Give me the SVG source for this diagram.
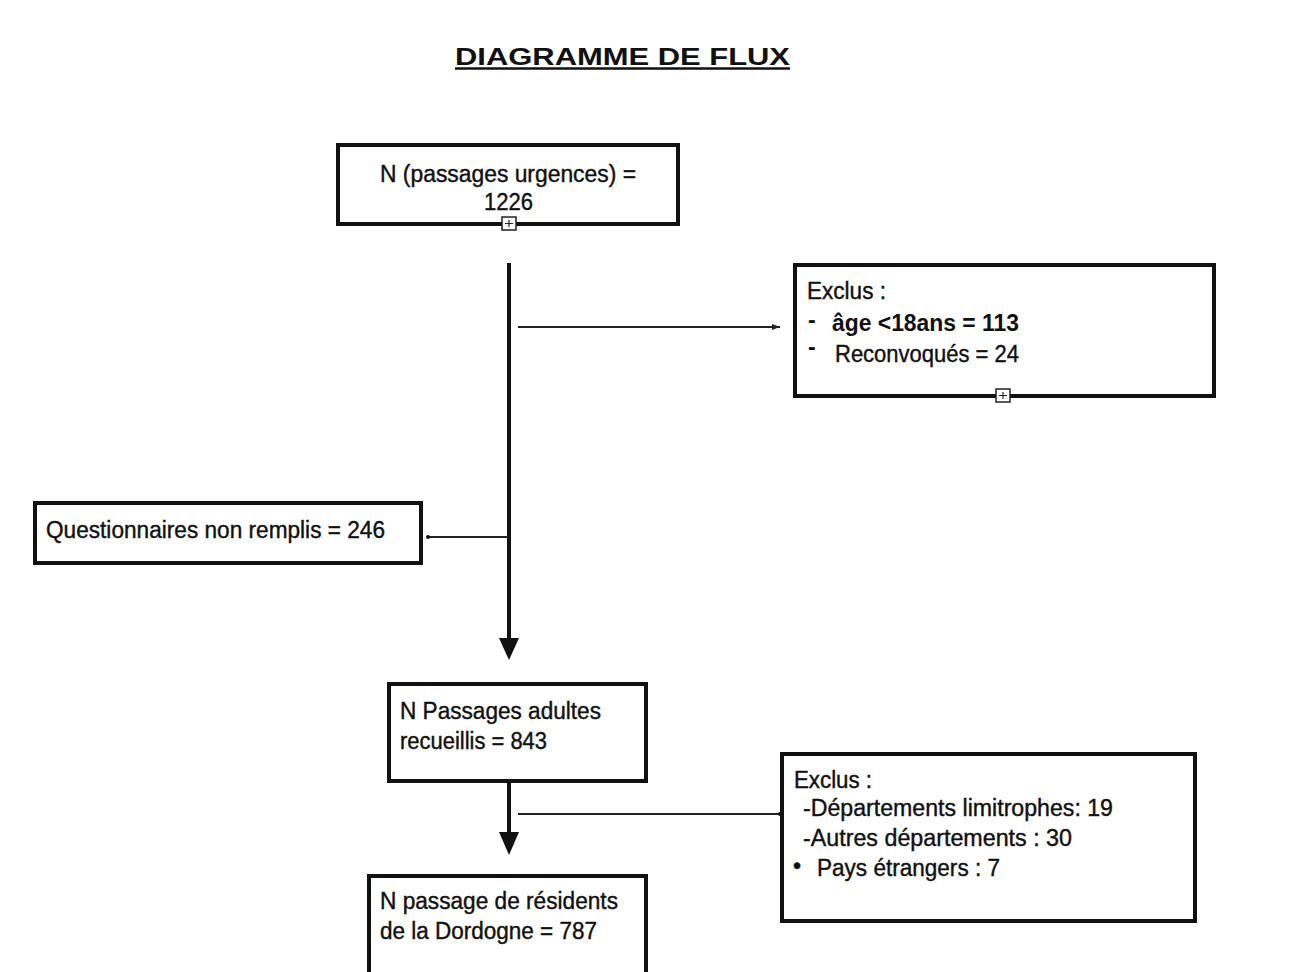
<svg xmlns="http://www.w3.org/2000/svg" width="1290" height="972" viewBox="0 0 1290 972">
<style>
.box{fill:#fff;stroke:#111;stroke-width:4}
.t{font-family:"Liberation Sans",Arial,sans-serif;font-size:23px;fill:#111;stroke:#111;stroke-width:0.4}
.b{font-weight:bold;stroke-width:0}
.thin{stroke:#222;stroke-width:2;fill:none}
.thick{stroke:#111;stroke-width:4;fill:none}
.plus{fill:#fff;stroke:#222;stroke-width:1.5}
</style>
<defs>
<marker id="small" markerWidth="8" markerHeight="8" refX="8" refY="4" orient="auto" markerUnits="userSpaceOnUse" viewBox="0 0 8 8">
<path d="M0,1 L8,4 L0,7 z" fill="#222"/>
</marker>
</defs>
<rect width="1290" height="972" fill="#fff"/>
<g id="title">
<text class="t b" x="455" y="65" font-size="37" textLength="335" lengthAdjust="spacingAndGlyphs">DIAGRAMME DE FLUX</text>
<line x1="455" y1="68.5" x2="790" y2="68.5" stroke="#111" stroke-width="2.5"/>
</g>
<g id="connectors">
<line class="thick" x1="509" y1="263" x2="509" y2="640"/>
<path d="M499,638 L519,638 L509,660 z" fill="#111"/>
<line class="thin" x1="518" y1="327" x2="780" y2="327" marker-end="url(#small)"/>
<line class="thin" x1="509" y1="537" x2="428" y2="537"/>
<circle cx="428" cy="537" r="2" fill="#111"/>
<line class="thick" x1="509" y1="781" x2="509" y2="834"/>
<path d="M499,832 L519,832 L509,855 z" fill="#111"/>
<line class="thin" x1="518" y1="814" x2="780" y2="814"/>
<circle cx="780" cy="814" r="2" fill="#111"/>
</g>
<g id="n1">
<rect class="box" x="338" y="145" width="340" height="79"/>
<text class="t" x="380" y="182" textLength="256" lengthAdjust="spacingAndGlyphs">N (passages urgences) =</text>
<text class="t" x="484" y="210" textLength="49" lengthAdjust="spacingAndGlyphs">1226</text>
<rect class="plus" x="502" y="217" width="14" height="13"/>
<path d="M505,223.5 H513 M509,220 V227" stroke="#222" stroke-width="1.2"/>
</g>
<g id="n2">
<rect class="box" x="795" y="265" width="419" height="131"/>
<text class="t" x="807" y="299" textLength="79" lengthAdjust="spacingAndGlyphs">Exclus :</text>
<text class="t b" x="808" y="328">-</text>
<text class="t b" x="832" y="331" textLength="187" lengthAdjust="spacingAndGlyphs">âge &lt;18ans =  113</text>
<text class="t b" x="808" y="355">-</text>
<text class="t" x="835" y="362" textLength="184" lengthAdjust="spacingAndGlyphs">Reconvoqués = 24</text>
<rect class="plus" x="996" y="389" width="14" height="13"/>
<path d="M999,395.5 H1007 M1003,392 V399" stroke="#222" stroke-width="1.2"/>
</g>
<g id="n3">
<rect class="box" x="35" y="503" width="386" height="60"/>
<text class="t" x="46" y="538" textLength="339" lengthAdjust="spacingAndGlyphs">Questionnaires non remplis = 246</text>
</g>
<g id="n4">
<rect class="box" x="389" y="684" width="257" height="97"/>
<text class="t" x="400" y="719" textLength="201" lengthAdjust="spacingAndGlyphs">N Passages adultes</text>
<text class="t" x="400" y="749" textLength="147" lengthAdjust="spacingAndGlyphs">recueillis = 843</text>
</g>
<g id="n5">
<rect class="box" x="782" y="754" width="413" height="167"/>
<text class="t" x="794" y="788" textLength="78" lengthAdjust="spacingAndGlyphs">Exclus :</text>
<text class="t" x="803" y="816" textLength="310" lengthAdjust="spacingAndGlyphs">-Départements limitrophes: 19</text>
<text class="t" x="803" y="846" textLength="269" lengthAdjust="spacingAndGlyphs">-Autres départements : 30</text>
<text class="t" x="793" y="874">•</text>
<text class="t" x="817" y="876" textLength="183" lengthAdjust="spacingAndGlyphs">Pays étrangers : 7</text>
</g>
<g id="n6">
<rect class="box" x="369" y="876" width="277" height="100"/>
<text class="t" x="380" y="909" textLength="238" lengthAdjust="spacingAndGlyphs">N passage de résidents</text>
<text class="t" x="380" y="939" textLength="217" lengthAdjust="spacingAndGlyphs">de la Dordogne = 787</text>
</g>
</svg>
